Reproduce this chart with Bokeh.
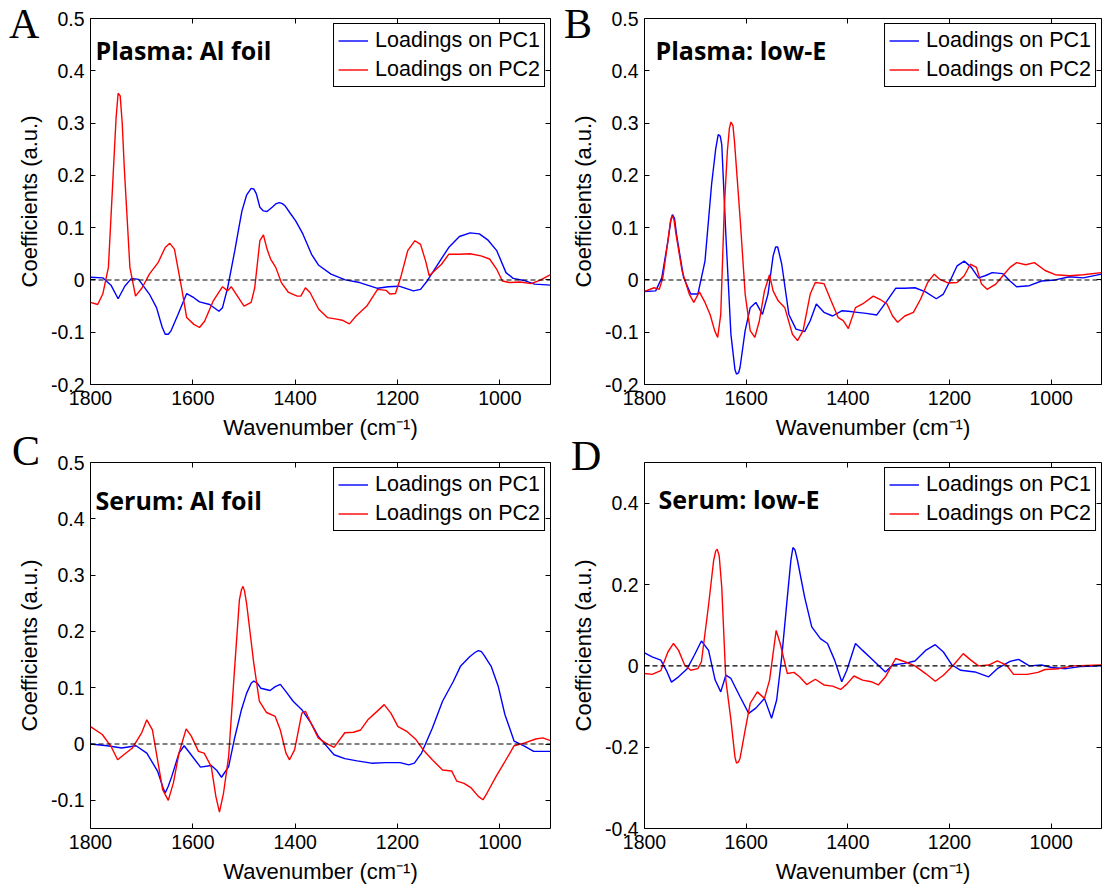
from bokeh.plotting import figure
from bokeh.layouts import GridBox
from bokeh.models import Range1d, Span, Label, LinearAxis, FixedTicker, Div
from bokeh.embed import file_html
from bokeh.resources import INLINE

# ---------------- data ----------------
x_ticks = [1800, 1600, 1400, 1200, 1000]
y_ticks_AB = [-0.2, -0.1, 0, 0.1, 0.2, 0.3, 0.4, 0.5]
y_labels_AB = ["-0.2", "-0.1", "0", "0.1", "0.2", "0.3", "0.4", "0.5"]
y_ticks_C = [-0.1, 0, 0.1, 0.2, 0.3, 0.4, 0.5]
y_labels_C = ["-0.1", "0", "0.1", "0.2", "0.3", "0.4", "0.5"]
y_ticks_D = [-0.4, -0.2, 0, 0.2, 0.4]
y_labels_D = ["-0.4", "-0.2", "0", "0.2", "0.4"]

series_names = ["Loadings on PC1", "Loadings on PC2"]
panel_titles = ["Plasma: Al foil", "Plasma: low-E", "Serum: Al foil", "Serum: low-E"]
panel_letters = ["A", "B", "C", "D"]

wn_A_pc1 = [1800, 1776, 1760, 1746, 1733, 1720, 1706, 1685, 1671, 1660, 1654, 1648, 1643, 1629, 1612, 1598, 1587, 1567, 1549, 1542,
            1532, 1518, 1510, 1504, 1495, 1486, 1481, 1476, 1469, 1462, 1455, 1445, 1437, 1431, 1425, 1420, 1410, 1399, 1385, 1368,
            1354, 1330, 1302, 1274, 1239, 1218, 1197, 1169, 1155, 1142, 1121, 1100, 1079, 1058, 1040, 1023, 1006, 988, 974, 953,
            932, 901]
ld_A_pc1 = [0.005, 0.004, -0.010, -0.036, -0.012, 0.003, 0.001, -0.027, -0.053, -0.090, -0.104, -0.104, -0.098, -0.066, -0.026, -0.034, -0.042, -0.047, -0.060, -0.053,
            -0.015, 0.056, 0.100, 0.132, 0.162, 0.175, 0.174, 0.165, 0.139, 0.132, 0.131, 0.139, 0.146, 0.148, 0.146, 0.142, 0.128, 0.113, 0.088, 0.049,
            0.028, 0.011, 0.0, -0.005, -0.016, -0.013, -0.012, -0.021, -0.018, -0.002, 0.030, 0.062, 0.083, 0.090, 0.088, 0.076, 0.056, 0.014, 0.003, -0.001,
            -0.008, -0.010]

wn_A_pc2 = [1800, 1786, 1776, 1765, 1755, 1750, 1746, 1742, 1738, 1734, 1723, 1712, 1699, 1685, 1668, 1654, 1645, 1636, 1622, 1612,
            1598, 1587, 1577, 1560, 1542, 1532, 1525, 1500, 1486, 1479, 1469, 1462, 1455, 1448, 1438, 1427, 1413, 1396, 1389, 1380,
            1371, 1354, 1337, 1319, 1308, 1294, 1281, 1260, 1239, 1222, 1215, 1204, 1194, 1180, 1166, 1155, 1145, 1138, 1128, 1114,
            1100, 1079, 1058, 1037, 1020, 1006, 995, 981, 960, 939, 922, 901]
ld_A_pc2 = [-0.043, -0.047, -0.027, 0.024, 0.215, 0.310, 0.357, 0.352, 0.300, 0.215, 0.024, -0.031, -0.015, 0.011, 0.033, 0.062, 0.070, 0.059, -0.015, -0.072,
            -0.085, -0.091, -0.079, -0.040, -0.013, -0.021, -0.013, -0.050, -0.043, -0.015, 0.075, 0.086, 0.059, 0.040, 0.024, -0.005, -0.024, -0.031, -0.031, -0.015,
            -0.024, -0.056, -0.072, -0.075, -0.077, -0.084, -0.069, -0.050, -0.018, -0.020, -0.027, -0.026, 0.004, 0.056, 0.075, 0.068, 0.036, 0.008, 0.017, 0.030,
            0.049, 0.049, 0.050, 0.046, 0.040, 0.020, -0.002, -0.005, -0.004, -0.007, -0.001, 0.010]

wn_B_pc1 = [1800, 1778, 1766, 1754, 1748, 1745, 1741, 1737, 1723, 1709, 1695, 1681, 1668, 1660, 1655, 1651, 1648, 1640, 1630, 1622,
            1619, 1615, 1612, 1602, 1592, 1581, 1568, 1557, 1547, 1542, 1538, 1530, 1516, 1502, 1485, 1474, 1462, 1447, 1430, 1412,
            1399, 1381, 1364, 1343, 1323, 1306, 1288, 1268, 1247, 1226, 1212, 1199, 1185, 1171, 1157, 1143, 1130, 1116, 1095, 1081,
            1068, 1043, 1019, 992, 964, 937, 901]
ld_B_pc1 = [-0.022, -0.021, 0.004, 0.074, 0.115, 0.125, 0.118, 0.087, 0.004, -0.027, -0.027, 0.036, 0.183, 0.250, 0.278, 0.275, 0.259, 0.087, -0.104, -0.172,
            -0.180, -0.178, -0.167, -0.097, -0.053, -0.043, -0.066, -0.027, 0.046, 0.063, 0.063, 0.030, -0.066, -0.094, -0.099, -0.078, -0.046, -0.062, -0.069, -0.059,
            -0.060, -0.062, -0.064, -0.067, -0.040, -0.016, -0.016, -0.015, -0.023, -0.036, -0.027, -0.002, 0.027, 0.036, 0.024, 0.004, 0.008, 0.014, 0.012, -0.002,
            -0.013, -0.011, -0.002, 0.0, 0.006, 0.004, 0.011]

wn_B_pc2 = [1800, 1781, 1771, 1764, 1754, 1749, 1746, 1742, 1738, 1726, 1712, 1703, 1692, 1681, 1671, 1662, 1656, 1650, 1643, 1637,
            1633, 1630, 1626, 1623, 1612, 1602, 1592, 1583, 1574, 1564, 1554, 1547, 1537, 1524, 1509, 1499, 1488, 1474, 1464, 1447,
            1433, 1419, 1409, 1399, 1385, 1371, 1350, 1337, 1323, 1312, 1302, 1288, 1271, 1257, 1243, 1230, 1219, 1202, 1185, 1171,
            1159, 1147, 1137, 1126, 1109, 1095, 1081, 1068, 1050, 1033, 1012, 992, 964, 937, 901]
ld_B_pc2 = [-0.022, -0.015, -0.018, 0.004, 0.074, 0.112, 0.123, 0.115, 0.087, 0.017, -0.027, -0.043, -0.023, -0.043, -0.066, -0.097, -0.110, -0.066, 0.138, 0.246,
            0.290, 0.302, 0.295, 0.265, 0.119, -0.027, -0.097, -0.110, -0.078, -0.021, 0.010, -0.021, -0.040, -0.053, -0.104, -0.116, -0.097, -0.027, -0.005, -0.007,
            -0.040, -0.072, -0.078, -0.093, -0.053, -0.046, -0.031, -0.037, -0.046, -0.069, -0.081, -0.069, -0.062, -0.037, -0.005, 0.011, 0.001, -0.006, -0.005, 0.008,
            0.030, 0.024, -0.008, -0.018, -0.008, 0.008, 0.024, 0.033, 0.029, 0.033, 0.018, 0.010, 0.008, 0.010, 0.014]

wn_C_pc1 = [1800, 1767, 1739, 1711, 1690, 1669, 1658, 1654, 1648, 1641, 1627, 1617, 1606, 1585, 1564, 1554, 1544, 1530, 1519, 1505,
            1495, 1486, 1481, 1474, 1467, 1449, 1439, 1429, 1418, 1404, 1387, 1369, 1355, 1341, 1324, 1303, 1279, 1251, 1223, 1195,
            1178, 1167, 1153, 1132, 1112, 1091, 1077, 1059, 1048, 1042, 1036, 1031, 1017, 1003, 990, 972, 951, 934, 901]
ld_C_pc1 = [0.0, -0.003, -0.007, -0.003, -0.016, -0.048, -0.078, -0.087, -0.075, -0.057, -0.016, -0.003, -0.016, -0.041, -0.038, -0.046, -0.059, -0.040, 0.008, 0.061,
            0.090, 0.108, 0.112, 0.108, 0.099, 0.095, 0.102, 0.106, 0.093, 0.076, 0.061, 0.037, 0.014, -0.001, -0.019, -0.026, -0.030, -0.034, -0.033, -0.033,
            -0.037, -0.034, -0.016, 0.028, 0.076, 0.111, 0.138, 0.155, 0.163, 0.166, 0.164, 0.158, 0.138, 0.102, 0.052, 0.005, -0.004, -0.013, -0.013]

wn_C_pc2 = [1800, 1777, 1760, 1747, 1735, 1718, 1700, 1690, 1679, 1669, 1659, 1648, 1638, 1627, 1613, 1603, 1589, 1578, 1564, 1555,
            1548, 1540, 1530, 1519, 1509, 1505, 1502, 1499, 1495, 1481, 1470, 1456, 1439, 1429, 1418, 1411, 1401, 1387, 1380, 1369,
            1355, 1341, 1324, 1303, 1286, 1272, 1258, 1240, 1226, 1213, 1199, 1181, 1164, 1150, 1132, 1112, 1094, 1084, 1070, 1056,
            1042, 1033, 1025, 1007, 990, 972, 951, 930, 916, 901]
ld_C_pc2 = [0.031, 0.017, -0.004, -0.028, -0.019, -0.007, 0.020, 0.043, 0.025, -0.028, -0.081, -0.100, -0.069, -0.016, 0.027, 0.014, -0.013, -0.016, -0.040, -0.093,
            -0.121, -0.087, -0.022, 0.126, 0.256, 0.274, 0.280, 0.272, 0.250, 0.144, 0.076, 0.056, 0.049, 0.025, -0.016, -0.028, -0.010, 0.055, 0.058, 0.037,
            0.011, 0.002, -0.006, 0.020, 0.021, 0.025, 0.043, 0.058, 0.070, 0.055, 0.031, 0.022, 0.008, -0.010, -0.028, -0.046, -0.048, -0.066, -0.070, -0.078,
            -0.093, -0.099, -0.087, -0.057, -0.031, -0.003, 0.002, 0.009, 0.011, 0.006]

wn_D_pc1 = [1800, 1785, 1768, 1757, 1747, 1733, 1716, 1702, 1688, 1674, 1661, 1650, 1640, 1630, 1612, 1595, 1581, 1564, 1550, 1540,
            1530, 1519, 1512, 1508, 1504, 1499, 1485, 1471, 1454, 1440, 1426, 1412, 1402, 1385, 1371, 1354, 1337, 1326, 1312, 1288,
            1268, 1247, 1228, 1212, 1195, 1178, 1150, 1123, 1106, 1081, 1064, 1043, 1019, 999, 971, 943, 901]
ld_D_pc1 = [0.032, 0.022, 0.014, -0.011, -0.040, -0.027, -0.007, 0.026, 0.061, 0.038, -0.035, -0.064, -0.023, -0.031, -0.076, -0.117, -0.104, -0.080, -0.129, -0.084,
            0.022, 0.169, 0.260, 0.291, 0.285, 0.259, 0.169, 0.096, 0.067, 0.055, 0.014, -0.039, -0.011, 0.055, 0.038, 0.018, -0.002, -0.015, 0.002, 0.006,
            0.012, 0.038, 0.052, 0.034, 0.002, -0.011, -0.015, -0.027, -0.007, 0.011, 0.016, 0.0, 0.002, -0.004, -0.007, -0.002, 0.0]

wn_D_pc2 = [1800, 1785, 1768, 1754, 1743, 1733, 1721, 1709, 1695, 1688, 1674, 1664, 1660, 1657, 1653, 1648, 1640, 1630, 1622, 1619,
            1615, 1612, 1602, 1592, 1578, 1564, 1554, 1541, 1533, 1519, 1506, 1495, 1481, 1464, 1447, 1430, 1414, 1402, 1388, 1371,
            1354, 1340, 1326, 1306, 1288, 1268, 1247, 1228, 1212, 1192, 1173, 1158, 1143, 1123, 1106, 1088, 1074, 1047, 1026, 1012,
            985, 957, 930, 901]
ld_D_pc2 = [-0.019, -0.021, -0.012, 0.034, 0.055, 0.038, 0.002, -0.011, -0.007, 0.010, 0.149, 0.259, 0.282, 0.287, 0.270, 0.193, -0.035, -0.133, -0.225, -0.239,
            -0.236, -0.227, -0.158, -0.092, -0.064, -0.080, -0.035, 0.087, 0.055, -0.019, -0.016, -0.027, -0.046, -0.033, -0.047, -0.050, -0.058, -0.045, -0.025, -0.035,
            -0.039, -0.047, -0.027, 0.018, 0.010, 0.0, -0.019, -0.038, -0.023, 0.002, 0.030, 0.014, 0.0, 0.002, 0.012, 0.002, -0.021, -0.021, -0.016, -0.009,
            -0.007, 0.0, 0.001, 0.002]

# ---------------- styling ----------------
SANS = "Liberation Sans"
TICK_FS = "19.5px"
LABEL_FS = "22px"


def make_panel(wn1, ld1, wn2, ld2, y_lo, y_hi, yticks, ylabels, title,
               width, height, bl, br, bt, bb, title_dx, title_dy):
    p = figure(width=width, height=height,
               x_range=Range1d(1800, 901), y_range=Range1d(y_lo, y_hi),
               output_backend="svg", toolbar_location=None,
               min_border_left=bl, min_border_right=br,
               min_border_top=bt, min_border_bottom=bb)
    p.grid.visible = False
    p.background_fill_color = "white"
    p.border_fill_color = "white"
    p.outline_line_color = "black"
    p.outline_line_width = 1
    p.outline_line_alpha = 1

    p.add_layout(Span(location=0, dimension="width", line_color="black",
                      line_dash="5 3", line_width=1.1))

    p.line(wn1, ld1, line_color="#0000FF", line_width=1.4, legend_label=series_names[0])
    p.line(wn2, ld2, line_color="#FF0000", line_width=1.4, legend_label=series_names[1])

    xt = FixedTicker(ticks=x_ticks)
    yt = FixedTicker(ticks=yticks)
    p.xaxis.ticker = xt
    p.yaxis.ticker = yt
    p.yaxis.major_label_overrides = dict(zip(yticks, ylabels))
    for ax in (p.xaxis[0], p.yaxis[0]):
        ax.axis_line_color = None
        ax.major_tick_in = 5
        ax.major_tick_out = 0
        ax.major_tick_line_color = "black"
        ax.minor_tick_line_color = None
        ax.major_label_text_font = SANS
        ax.major_label_text_font_size = TICK_FS
        ax.major_label_text_color = "black"
        ax.axis_label_text_font = SANS
        ax.axis_label_text_font_size = LABEL_FS
        ax.axis_label_text_font_style = "normal"
        ax.axis_label_text_color = "black"
    p.xaxis.major_label_standoff = 6
    p.xaxis.axis_label_standoff = 7
    p.yaxis.major_label_standoff = 6
    p.yaxis.axis_label_standoff = 6
    p.xaxis.axis_label = "Wavenumber (cm\u207b\u00b9)"
    p.yaxis.axis_label = "Coefficients (a.u.)"

    for side, tk in (("above", xt), ("right", yt)):
        ax = LinearAxis(ticker=tk, axis_line_color=None, major_tick_in=5, major_tick_out=0,
                        major_tick_line_color="black", minor_tick_line_color=None,
                        major_label_text_font_size="1px", major_label_text_color=None,
                        major_label_standoff=0)
        p.add_layout(ax, side)

    lg = p.legend[0]
    lg.location = "top_right"
    lg.margin = 5
    lg.padding = 4
    lg.spacing = 4
    lg.glyph_width = 30
    lg.glyph_height = 25
    lg.label_height = 25
    lg.label_standoff = 7
    lg.label_text_font = SANS
    lg.label_text_font_size = "21.5px"
    lg.label_text_color = "black"
    lg.border_line_color = "black"
    lg.border_line_width = 1
    lg.border_line_alpha = 1
    lg.background_fill_color = "white"
    lg.background_fill_alpha = 1

    p.add_layout(Label(x=1800, y=y_hi, x_offset=title_dx, y_offset=title_dy, text=title,
                       text_font="Open Sans", text_font_style="bold", text_font_size="25px",
                       text_color="black", text_baseline="alphabetic", text_align="left"))
    return p


def letter_div(letter, top, left):
    return Div(text=letter, width=44, height=46, margin=(top, 0, 0, left), align="start",
               styles={"font-family": "Liberation Serif", "font-size": "42px",
                       "line-height": "42px", "color": "black"})


pA = make_panel(wn_A_pc1, ld_A_pc1, wn_A_pc2, ld_A_pc2, -0.2, 0.5, y_ticks_AB, y_labels_AB,
                panel_titles[0], 556, 444, 90, 6, 18, 60, 5, -31)
pB = make_panel(wn_B_pc1, ld_B_pc1, wn_B_pc2, ld_B_pc2, -0.2, 0.5, y_ticks_AB, y_labels_AB,
                panel_titles[1], 548, 444, 88, 0, 18, 60, 11, -31)
pC = make_panel(wn_C_pc1, ld_C_pc1, wn_C_pc2, ld_C_pc2, -0.15, 0.5, y_ticks_C, y_labels_C,
                panel_titles[2], 556, 446, 90, 6, 18, 62, 5, -37)
pD = make_panel(wn_D_pc1, ld_D_pc1, wn_D_pc2, ld_D_pc2, -0.4, 0.5, y_ticks_D, y_labels_D,
                panel_titles[3], 548, 446, 85, 3, 18, 62, 14, -36)

dA = letter_div(panel_letters[0], 3, 9)
dB = letter_div(panel_letters[1], 3, 8)
dC = letter_div(panel_letters[2], 430, 12)
dD = letter_div(panel_letters[3], 435, 15)

layout = GridBox(children=[(pA, 0, 0), (pB, 0, 1), (pC, 1, 0), (pD, 1, 1),
                           (dA, 0, 0, 2, 1), (dB, 0, 1, 2, 1), (dC, 0, 0, 2, 1), (dD, 0, 1, 2, 1)],
                 spacing=0)
open("out.html", "w").write(file_html(layout, INLINE))
